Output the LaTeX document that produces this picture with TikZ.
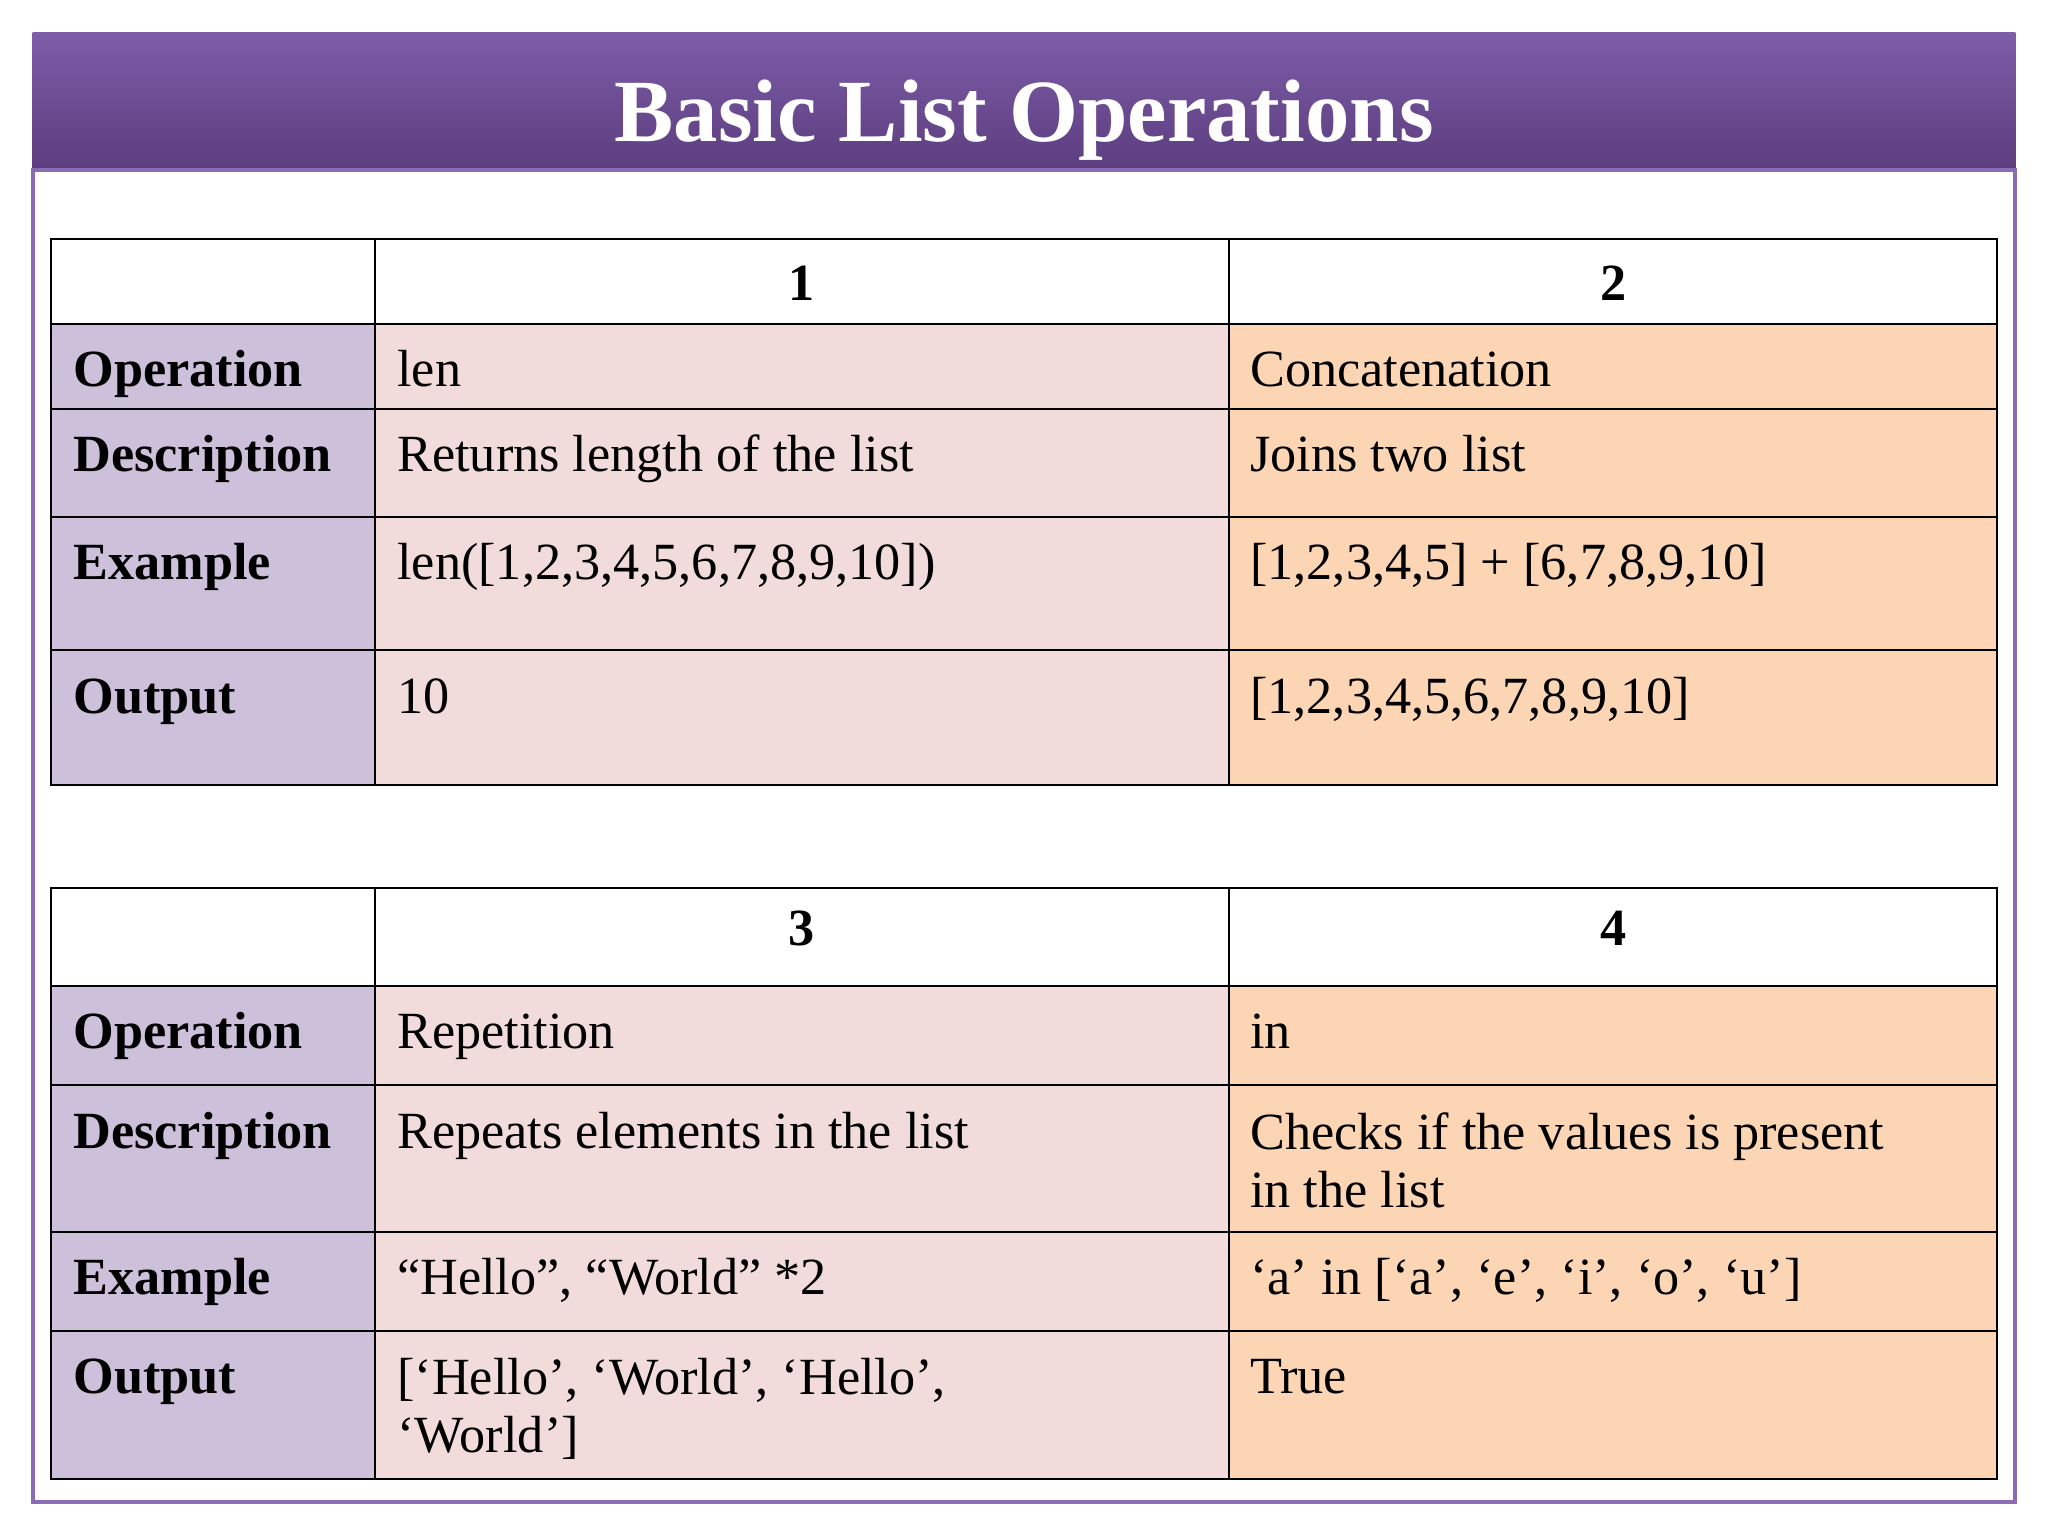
\documentclass[tikz,border=0pt]{standalone}
\usepackage{fontspec}
\setmainfont{Liberation Serif}
\definecolor{lav}{HTML}{CCC0DA}
\definecolor{pnk}{HTML}{F2DCDB}
\definecolor{pch}{HTML}{FCD5B4}
\definecolor{ptop}{HTML}{7D5DA8}
\definecolor{pbot}{HTML}{5C3D7E}
\definecolor{pline}{HTML}{8A6BB5}
\tikzset{cell/.style={anchor=base west,inner sep=0pt,font=\fontsize{40}{44}\selectfont,align=left},
hd/.style={cell,font=\fontsize{40}{44}\selectfont\bfseries},
num/.style={anchor=base,inner sep=0pt,font=\fontsize{40}{44}\selectfont\bfseries},
grid/.style={draw=black,line width=1.5pt}}
\begin{document}
\begin{tikzpicture}[x=1pt,y=-1pt]
\useasboundingbox (0,0) rectangle (1568,1176);
\fill[white] (0,0) rectangle (1568,1176);
\shade[top color=ptop,bottom color=pbot] (25,25) rectangle (1543,130);
\draw[pline,line width=3pt] (25,130) -- (25,1150) -- (1543,1150) -- (1543,130) -- cycle;
\node[anchor=base,text=white,font=\fontsize{68}{70}\selectfont\bfseries] (title) at (784,108) {Basic List Operations};
% table 1
\fill[lav] (39,248) rectangle (287,601);
\fill[pnk] (287,248) rectangle (941,601);
\fill[pch] (941,248) rectangle (1529,601);
\draw[grid] (39,183) rectangle (1529,601);
\foreach \y in {248,313,396,498} \draw[grid] (39,\y) -- (1529,\y);
\foreach \x in {287,941} \draw[grid] (\x,183) -- (\x,601);
\node[num] (h1) at (614,230) {1};
\node[num] (h2) at (1235,230) {2};
\node[hd] (a1) at (56,296) {Operation};
\node[hd] (a2) at (56,361) {Description};
\node[hd] (a3) at (56,444) {Example};
\node[hd] (a4) at (56,546) {Output};
\node[cell] (b1) at (304,296) {len};
\node[cell] (b2) at (304,361) {Returns length of the list};
\node[cell] (b3) at (304,444) {len([1,2,3,4,5,6,7,8,9,10])};
\node[cell] (b4) at (304,546) {10};
\node[cell] (c1) at (957,296) {Concatenation};
\node[cell] (c2) at (957,361) {Joins two list};
\node[cell] (c3) at (957,444) {[1,2,3,4,5] + [6,7,8,9,10]};
\node[cell] (c4) at (957,546) {[1,2,3,4,5,6,7,8,9,10]};
% table 2
\fill[lav] (39,755) rectangle (287,1132);
\fill[pnk] (287,755) rectangle (941,1132);
\fill[pch] (941,755) rectangle (1529,1132);
\draw[grid] (39,680) rectangle (1529,1132);
\foreach \y in {755,831,943,1019} \draw[grid] (39,\y) -- (1529,\y);
\foreach \x in {287,941} \draw[grid] (\x,680) -- (\x,1132);
\node[num] (h3) at (614,724) {3};
\node[num] (h4) at (1235,724) {4};
\node[hd] (d1) at (56,803) {Operation};
\node[hd] (d2) at (56,879) {Description};
\node[hd] (d3) at (56,991) {Example};
\node[hd] (d4) at (56,1067) {Output};
\node[cell] (e1) at (304,803) {Repetition};
\node[cell] (e2) at (304,879) {Repeats elements in the list};
\node[cell] (e3) at (304,991) {“Hello”, “World” *2};
\node[cell,anchor=north west] (e4) at (304,1040) {[‘Hello’, ‘World’, ‘Hello’,\\ ‘World’]};
\node[cell] (f1) at (957,803) {in};
\node[cell,anchor=north west] (f2) at (957,852) {Checks if the values is present\\in the list};
\node[cell] (f3) at (957,991) {‘a’ in [‘a’, ‘e’, ‘i’, ‘o’, ‘u’]};
\node[cell] (f4) at (957,1067) {True};
\end{tikzpicture}
\end{document}
